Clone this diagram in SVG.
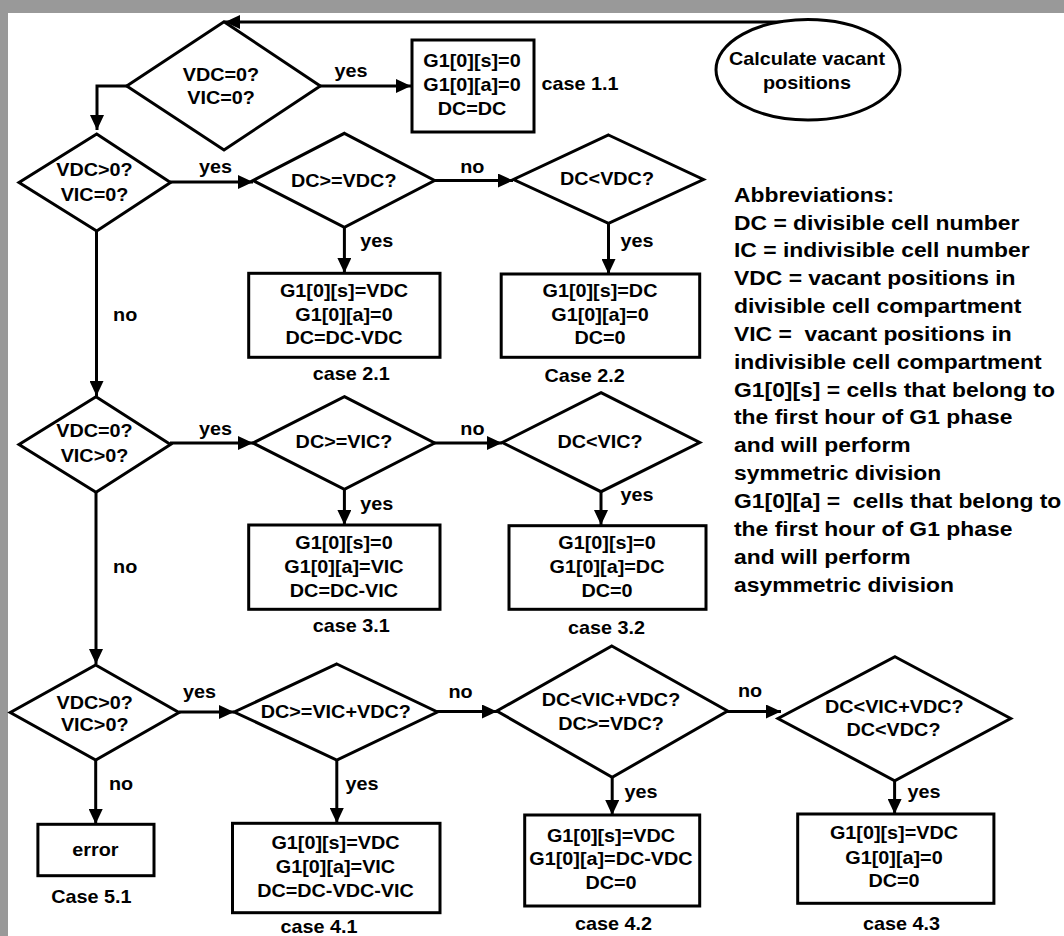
<svg xmlns="http://www.w3.org/2000/svg" width="1064" height="936" viewBox="0 0 1064 936">
<style>
.sh{fill:#fff;stroke:#000;stroke-width:3;stroke-linejoin:miter}
.cn{fill:none;stroke:#000;stroke-width:3}
.t{font-family:"Liberation Sans",Arial,Helvetica,sans-serif;font-weight:bold;font-size:18px;text-anchor:middle;fill:#000;transform-box:fill-box;transform-origin:center;transform:scaleX(1.1)}
.ab{font-size:21px;text-anchor:start;transform-origin:left center;transform:scaleX(1.09);white-space:pre}
</style>
<defs>
<marker id="ah" markerUnits="userSpaceOnUse" markerWidth="16" markerHeight="14" refX="15" refY="7" orient="auto">
<path d="M0,0 L15,7 L0,14 z" fill="#000"/>
</marker>
</defs>
<rect x="0" y="0" width="1064" height="936" fill="#999999"/>
<rect x="8" y="13" width="1056" height="923" fill="#ffffff"/>

<g id="connectors">
<path class="cn" d="M800,22 H225" marker-end="url(#ah)"/>
<path class="cn" d="M320,86 H411" marker-end="url(#ah)"/>
<path class="cn" d="M127,86 H97 V130" marker-end="url(#ah)"/>
<path class="cn" d="M170,182 H253" marker-end="url(#ah)"/>
<path class="cn" d="M434,180.5 H513" marker-end="url(#ah)"/>
<path class="cn" d="M344.4,227 V273" marker-end="url(#ah)"/>
<path class="cn" d="M608.5,223 V274" marker-end="url(#ah)"/>
<path class="cn" d="M96.5,231 V396" marker-end="url(#ah)"/>
<path class="cn" d="M170,443 H253" marker-end="url(#ah)"/>
<path class="cn" d="M434,443 H502" marker-end="url(#ah)"/>
<path class="cn" d="M344.4,489 V525" marker-end="url(#ah)"/>
<path class="cn" d="M601,491.5 V525" marker-end="url(#ah)"/>
<path class="cn" d="M96,492 V664" marker-end="url(#ah)"/>
<path class="cn" d="M179,712 H234" marker-end="url(#ah)"/>
<path class="cn" d="M437,711.5 H497" marker-end="url(#ah)"/>
<path class="cn" d="M727,711.5 H781" marker-end="url(#ah)"/>
<path class="cn" d="M95.7,760 V824" marker-end="url(#ah)"/>
<path class="cn" d="M336.8,760 V823" marker-end="url(#ah)"/>
<path class="cn" d="M612.2,777 V815" marker-end="url(#ah)"/>
<path class="cn" d="M894.6,780 V814" marker-end="url(#ah)"/>
</g>

<g id="labels">
<text class="t" x="351" y="76.7">yes</text>
<text class="t" x="580" y="90">case 1.1</text>
<text class="t" x="215.6" y="173.3">yes</text>
<text class="t" x="472.3" y="173">no</text>
<text class="t" x="376.8" y="247.3">yes</text>
<text class="t" x="637" y="246.7">yes</text>
<text class="t" x="125.2" y="320.7">no</text>
<text class="t" x="351.3" y="380">case 2.1</text>
<text class="t" x="584.7" y="381.7">Case 2.2</text>
<text class="t" x="215.6" y="435">yes</text>
<text class="t" x="472.4" y="435">no</text>
<text class="t" x="376.8" y="510">yes</text>
<text class="t" x="637" y="500.7">yes</text>
<text class="t" x="125.2" y="573.3">no</text>
<text class="t" x="351.3" y="631.7">case 3.1</text>
<text class="t" x="606.5" y="634">case 3.2</text>
<text class="t" x="199.6" y="698">yes</text>
<text class="t" x="460.6" y="698">no</text>
<text class="t" x="750" y="697.3">no</text>
<text class="t" x="121" y="790">no</text>
<text class="t" x="362" y="790">yes</text>
<text class="t" x="641" y="798.3">yes</text>
<text class="t" x="924" y="798.3">yes</text>
<text class="t" x="91.3" y="903.3">Case 5.1</text>
<text class="t" x="319" y="932.7">case 4.1</text>
<text class="t" x="613.6" y="930">case 4.2</text>
<text class="t" x="901.5" y="930">case 4.3</text>
</g>

<g id="start">
<ellipse class="sh" cx="808" cy="69.7" rx="92" ry="50.3"/>
<text class="t" x="807" y="65">Calculate vacant</text>
<text class="t" x="807" y="89.3">positions</text>
</g>

<g id="d1">
<polygon class="sh" points="224,21.7 320.3,86 224,150 126.7,86"/>
<text class="t" x="221" y="81">VDC=0?</text>
<text class="t" x="221" y="104">VIC=0?</text>
</g>
<g id="b11">
<rect class="sh" x="412" y="40" width="122" height="92"/>
<text class="t" x="472" y="67.3">G1[0][s]=0</text>
<text class="t" x="472" y="91">G1[0][a]=0</text>
<text class="t" x="472" y="115">DC=DC</text>
</g>

<g id="d2">
<polygon class="sh" points="96.7,134 170.5,182.5 96.7,231 19,182.5"/>
<text class="t" x="94.5" y="176">VDC&gt;0?</text>
<text class="t" x="94.5" y="201">VIC=0?</text>
</g>
<g id="d3">
<polygon class="sh" points="344.4,133.3 434.6,180.5 344.4,227.3 253,180.5"/>
<text class="t" x="343.7" y="186.7">DC&gt;=VDC?</text>
</g>
<g id="d4">
<polygon class="sh" points="608.5,135 703.4,179.5 608.5,223.3 513.5,179.5"/>
<text class="t" x="607" y="185">DC&lt;VDC?</text>
</g>
<g id="b21">
<rect class="sh" x="248.7" y="273.3" width="191.3" height="84"/>
<text class="t" x="344" y="296.7">G1[0][s]=VDC</text>
<text class="t" x="344" y="320.7">G1[0][a]=0</text>
<text class="t" x="344" y="344.3">DC=DC-VDC</text>
</g>
<g id="b22">
<rect class="sh" x="501.2" y="274" width="198.5" height="83.3"/>
<text class="t" x="600" y="296.7">G1[0][s]=DC</text>
<text class="t" x="600" y="320.7">G1[0][a]=0</text>
<text class="t" x="600" y="344.3">DC=0</text>
</g>

<g id="d5">
<polygon class="sh" points="96,396.7 170.5,444.5 96,492.3 19,444.5"/>
<text class="t" x="94.5" y="437.3">VDC=0?</text>
<text class="t" x="94.5" y="461.7">VIC&gt;0?</text>
</g>
<g id="d6">
<polygon class="sh" points="344.4,396.7 434.6,443 344.4,489.3 253,443"/>
<text class="t" x="344" y="448.3">DC&gt;=VIC?</text>
</g>
<g id="d7">
<polygon class="sh" points="601,392.7 699.7,442.5 601,491.7 502.3,442.5"/>
<text class="t" x="600" y="447.7">DC&lt;VIC?</text>
</g>
<g id="b31">
<rect class="sh" x="248.7" y="525" width="191.3" height="84.3"/>
<text class="t" x="344" y="549.3">G1[0][s]=0</text>
<text class="t" x="344" y="573.3">G1[0][a]=VIC</text>
<text class="t" x="344" y="596.7">DC=DC-VIC</text>
</g>
<g id="b32">
<rect class="sh" x="509" y="525.7" width="197" height="83.6"/>
<text class="t" x="607" y="549.3">G1[0][s]=0</text>
<text class="t" x="607" y="573.3">G1[0][a]=DC</text>
<text class="t" x="607" y="596.7">DC=0</text>
</g>

<g id="d8">
<polygon class="sh" points="95.7,665 179,712.5 95.7,760 10.3,712.5"/>
<text class="t" x="94.7" y="709">VDC&gt;0?</text>
<text class="t" x="94.7" y="731.5">VIC&gt;0?</text>
</g>
<g id="d9">
<polygon class="sh" points="336.8,664 437.4,712 336.8,760 234.2,712"/>
<text class="t" x="335.8" y="718">DC&gt;=VIC+VDC?</text>
</g>
<g id="d10">
<polygon class="sh" points="611.8,646 727.6,711 612.2,777.3 496.8,711"/>
<text class="t" x="611" y="706">DC&lt;VIC+VDC?</text>
<text class="t" x="611" y="730">DC&gt;=VDC?</text>
</g>
<g id="d11">
<polygon class="sh" points="895,656.7 1010.7,718.5 894.7,780.7 778,718.5"/>
<text class="t" x="894.3" y="712.7">DC&lt;VIC+VDC?</text>
<text class="t" x="893.5" y="736">DC&lt;VDC?</text>
</g>
<g id="err">
<rect class="sh" x="37.9" y="824.3" width="116.1" height="51.4"/>
<text class="t" x="95.5" y="856">error</text>
</g>
<g id="b41">
<rect class="sh" x="232.5" y="823.3" width="207.5" height="89.4"/>
<text class="t" x="335.5" y="849.3">G1[0][s]=VDC</text>
<text class="t" x="335.5" y="873.3">G1[0][a]=VIC</text>
<text class="t" x="335.5" y="896.7">DC=DC-VDC-VIC</text>
</g>
<g id="b42">
<rect class="sh" x="524.7" y="815" width="175" height="91"/>
<text class="t" x="611" y="841.7">G1[0][s]=VDC</text>
<text class="t" x="611" y="865">G1[0][a]=DC-VDC</text>
<text class="t" x="611" y="889.3">DC=0</text>
</g>
<g id="b43">
<rect class="sh" x="797.7" y="814" width="196.2" height="89.3"/>
<text class="t" x="894" y="839.3">G1[0][s]=VDC</text>
<text class="t" x="894" y="864">G1[0][a]=0</text>
<text class="t" x="894" y="887.3">DC=0</text>
</g>

<g id="abbreviations">
<text class="t ab" x="734" y="201.7">Abbreviations:</text>
<text class="t ab" x="734" y="229.6">DC = divisible cell number</text>
<text class="t ab" x="734" y="257.4">IC = indivisible cell number</text>
<text class="t ab" x="734" y="285.3">VDC = vacant positions in</text>
<text class="t ab" x="734" y="313.1">divisible cell compartment</text>
<text class="t ab" x="734" y="341">VIC =  vacant positions in</text>
<text class="t ab" x="734" y="368.8">indivisible cell compartment</text>
<text class="t ab" x="734" y="396.7">G1[0][s] = cells that belong to</text>
<text class="t ab" x="734" y="424.5">the first hour of G1 phase</text>
<text class="t ab" x="734" y="452.4">and will perform</text>
<text class="t ab" x="734" y="480.2">symmetric division</text>
<text class="t ab" x="734" y="508.1">G1[0][a] =  cells that belong to</text>
<text class="t ab" x="734" y="535.9">the first hour of G1 phase</text>
<text class="t ab" x="734" y="563.8">and will perform</text>
<text class="t ab" x="734" y="591.6">asymmetric division</text>
</g>
</svg>
